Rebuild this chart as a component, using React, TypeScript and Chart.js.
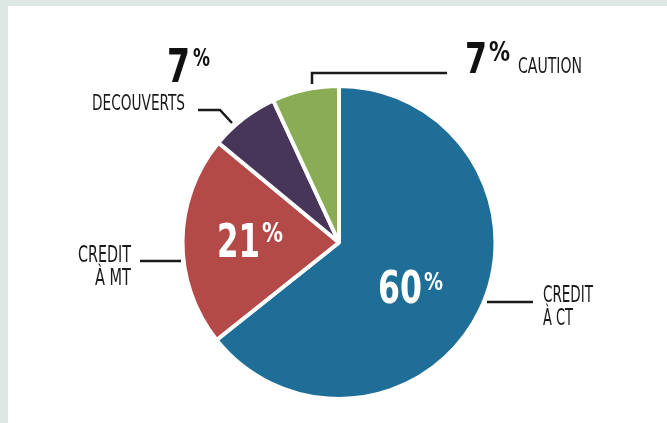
import React, { useEffect, useRef } from "react";
import { Chart, registerables } from "chart.js";

Chart.register(...registerables);

const categories = ["CREDIT À CT", "CREDIT À MT", "DECOUVERTS", "CAUTION"];
const shares = [64.3, 21.7, 7.1, 6.9];
const shownPercents = ["60", "21", "7", "7"];
const sliceColors = ["#1f6e98", "#b34a48", "#473659", "#89ac54"];

const FONT = '"DejaVu Sans Condensed", "DejaVu Sans", sans-serif';

// draws text whose left edge is at x, squeezed to the given width
function fit(
  ctx: CanvasRenderingContext2D,
  s: string,
  x: number,
  y: number,
  size: number,
  weight: string,
  color: string,
  width: number,
  align: "left" | "right" = "left"
) {
  ctx.save();
  ctx.font = `${weight} ${size}px ${FONT}`;
  const w = ctx.measureText(s).width;
  const sx = width / w;
  const left = align === "left" ? x : x - width;
  ctx.translate(left, y);
  ctx.scale(sx, 1);
  ctx.fillStyle = color;
  ctx.textAlign = "left";
  ctx.textBaseline = "alphabetic";
  ctx.fillText(s, 0, 0);
  ctx.restore();
}

const labelPlugin = {
  id: "labelPlugin",
  afterDraw(chart: any) {
    const ctx: CanvasRenderingContext2D = chart.ctx;
    const arc = chart.getDatasetMeta(0).data[0];
    if (!arc) return;
    const cx = arc.x;
    const cy = arc.y;
    const P = (x: number, y: number): [number, number] => [cx + (x - 339), cy + (y - 242.5)];

    ctx.save();
    ctx.strokeStyle = "#1a1a1a";
    ctx.lineWidth = 2.5;
    ctx.lineJoin = "miter";
    const line = (pts: [number, number][]) => {
      ctx.beginPath();
      pts.forEach((p, i) => {
        const [x, y] = P(p[0], p[1]);
        if (i === 0) ctx.moveTo(x, y);
        else ctx.lineTo(x, y);
      });
      ctx.stroke();
    };
    line([[198, 110], [220, 110], [232, 123]]);
    line([[447, 73], [312, 73], [312, 84]]);
    line([[140, 261], [181, 261]]);
    line([[487, 302], [533, 302]]);
    ctx.restore();

    const big = (
      num: string, x: number, base: number, size: number, w: number,
      pctTop: number, pctX: number, pctW: number, pctSize: number, color: string
    ) => {
      const [px, py] = P(x, base);
      fit(ctx, num, px, py, size, "bold", color, w);
      const [qx, qy] = P(pctX, pctTop + pctSize * 0.73);
      fit(ctx, "%", qx, qy, pctSize, "bold", color, pctW);
    };
    big(shownPercents[2], 167, 82, 47, 23, 48, 193, 17, 24, "#111");
    big(shownPercents[3], 465, 73, 43, 22, 42, 489, 21, 26, "#111");
    big(shownPercents[1], 217, 257, 46, 43, 223, 262, 21, 26, "#ffffff");
    big(shownPercents[0], 378, 303, 44, 44, 272, 424, 19, 24, "#ffffff");

    const col = "#1a1a1a";
    let [x, y] = P(185, 110);
    fit(ctx, categories[2], x, y, 21, "normal", col, 93, "right");
    [x, y] = P(518, 73);
    fit(ctx, categories[3], x, y, 21, "normal", col, 64);
    const mt = categories[1].split(" ");
    [x, y] = P(131, 262);
    fit(ctx, mt[0], x, y, 23, "normal", col, 53, "right");
    [x, y] = P(131, 285);
    fit(ctx, mt.slice(1).join(" "), x, y, 23, "normal", col, 36, "right");
    const ct = categories[0].split(" ");
    [x, y] = P(543, 302);
    fit(ctx, ct[0], x, y, 23, "normal", col, 50);
    [x, y] = P(543, 325);
    fit(ctx, ct.slice(1).join(" "), x, y, 23, "normal", col, 30);
  },
};

export default function App() {
  const ref = useRef<HTMLCanvasElement | null>(null);
  useEffect(() => {
    if (!ref.current) return;
    const chart = new Chart(ref.current, {
      type: "pie",
      data: {
        labels: categories,
        datasets: [
          {
            data: shares,
            backgroundColor: sliceColors,
            borderColor: "#ffffff",
            borderWidth: 4,
          },
        ],
      },
      options: {
        responsive: false,
        animation: false,
        radius: 156.5,
        layout: { padding: { left: 3, right: 0, top: 56, bottom: 0 } },
        plugins: {
          legend: { display: false },
          tooltip: { enabled: false },
        },
      } as any,
      plugins: [labelPlugin],
    });
    return () => chart.destroy();
  }, []);
  return (
    <div style={{ position: "fixed", inset: 0, background: "#dde8e5" }}>
      <div style={{ position: "absolute", left: 8, top: 6, right: 0, bottom: 0, background: "#ffffff" }}>
        <canvas ref={ref} width={659} height={417} style={{ display: "block" }} />
      </div>
    </div>
  );
}
